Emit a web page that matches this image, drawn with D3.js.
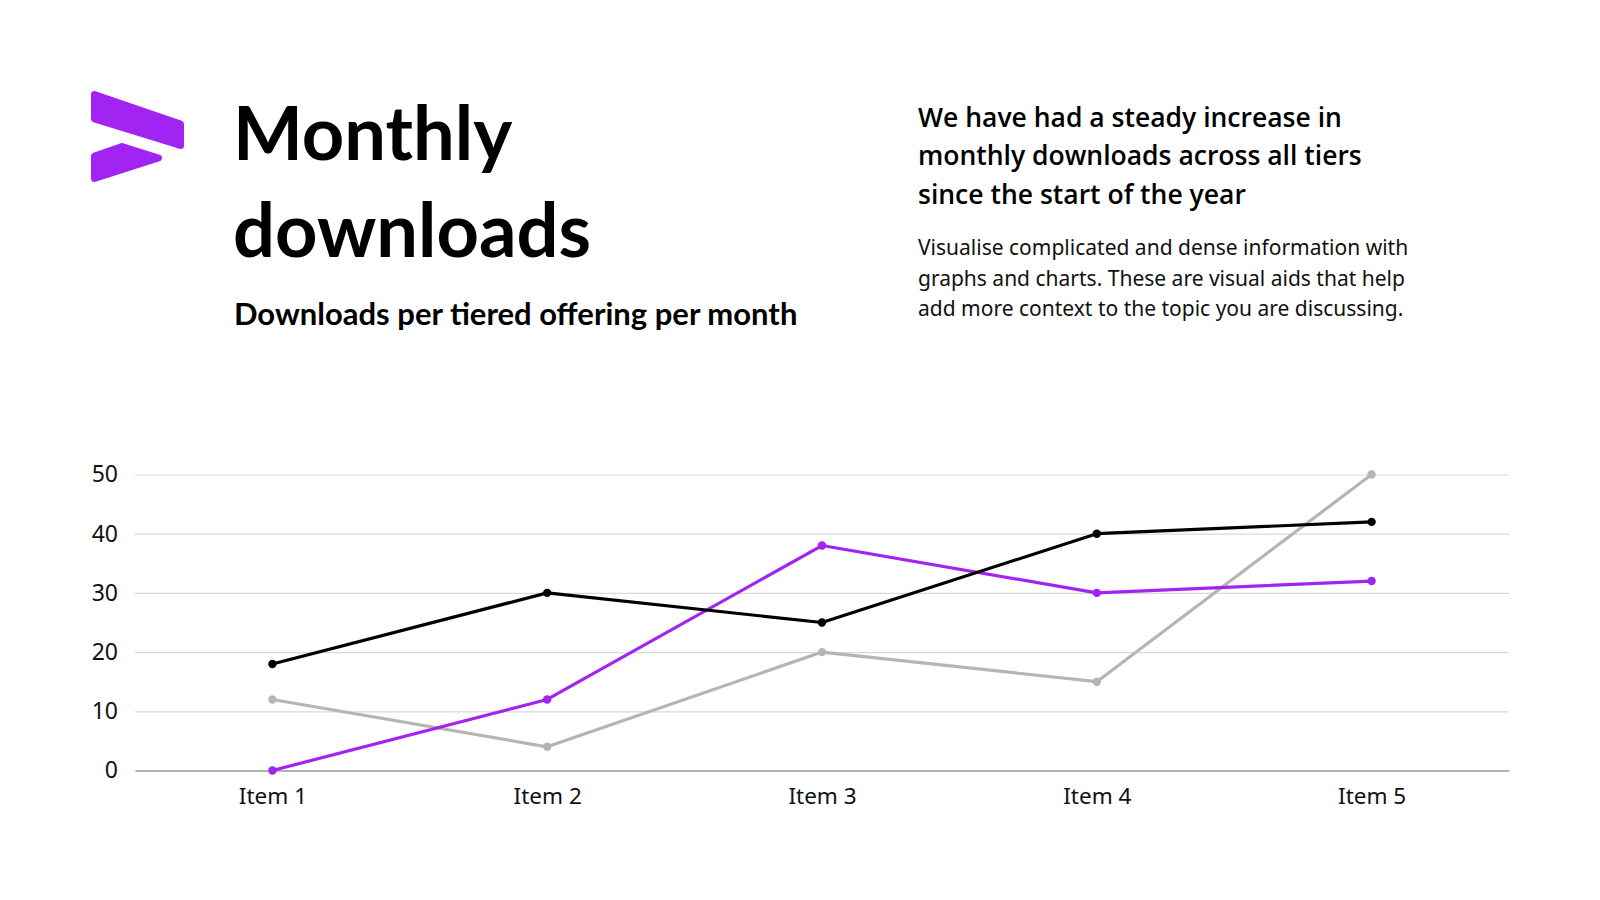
<!DOCTYPE html>
<html>
<head>
<meta charset="utf-8">
<script src="https://cdn.jsdelivr.net/npm/d3@7"></script>
<style>
    html, body { margin: 0; padding: 0; background: #ffffff; }
    svg { display: block; }
</style>
</head>
<body>
<script>
"use strict";
(function(){

    // chart data
    const items = ["Item 1", "Item 2", "Item 3", "Item 4", "Item 5"]
    const blackSeries = [18, 30, 25, 40, 42]
    const purpleSeries = [0, 12, 38, 30, 32]
    const greySeries = [12, 4, 20, 15, 50]
    const yTicks = [0, 10, 20, 30, 40, 50]

    const titleLines = ["Monthly", "downloads"]
    const subtitle = "Downloads per tiered offering per month"
    const leadLines = ["We have had a steady increase in", "monthly downloads across all tiers", "since the start of the year"]
    const bodyLines = ["Visualise complicated and dense information with", "graphs and charts. These are visual aids that help", "add more context to the topic you are discussing."]

    const purple = "#A124F2"

    const series = [
        { name: "grey", values: greySeries, color: "#B5B5B5" },
        { name: "purple", values: purpleSeries, color: purple },
        { name: "black", values: blackSeries, color: "#000000" }
    ]

    const measurements = {
        width: 1600,
        height: 900,
        left: 135,
        right: 1509,
        top: 474.5,
        bottom: 770.5
    }

    const svg = d3.select("body").append("svg")
        .attr("width", measurements.width)
        .attr("height", measurements.height)

    // logo
    const logo = svg.append("g")
        .attr("fill", purple)
        .attr("stroke", purple)
        .attr("stroke-width", 7)
        .attr("stroke-linejoin", "round")
    logo.append("path").attr("d", "M94.5,94.5 L180.5,124 L180.5,145.5 L94.5,119 Z")
    logo.append("path").attr("d", "M94.5,156 L122,146.5 L158.5,158 L94.5,178.5 Z")

    // heading
    const title = svg.append("text")
        .attr("font-family", "Lato, 'Noto Sans', sans-serif")
        .attr("font-weight", 700)
        .attr("font-size", 74)
        .attr("fill", "#000")
    title.selectAll("tspan")
        .data(titleLines)
        .enter()
        .append("tspan")
            .attr("x", 233)
            .attr("y", (d, i) => 160 + i * 97)
            .text(d => d)

    svg.append("text")
        .attr("x", 234)
        .attr("y", 324.5)
        .attr("font-family", "Lato, 'Noto Sans', sans-serif")
        .attr("font-weight", 700)
        .attr("font-size", 31)
        .attr("fill", "#000")
        .text(subtitle)

    svg.append("g")
        .attr("font-family", "'Open Sans', 'Noto Sans', sans-serif")
        .attr("font-weight", 600)
        .attr("font-size", 26.5)
        .attr("fill", "#000")
        .selectAll("text")
        .data(leadLines)
        .enter()
        .append("text")
            .attr("x", 918)
            .attr("y", (d, i) => 126.5 + i * 38.8)
            .text(d => d)

    svg.append("g")
        .attr("font-family", "'Noto Sans', 'Open Sans', sans-serif")
        .attr("font-size", 21)
        .attr("fill", "#111")
        .selectAll("text")
        .data(bodyLines)
        .enter()
        .append("text")
            .attr("x", 918)
            .attr("y", (d, i) => 255 + i * 30.7)
            .text(d => d)

    // scales
    const scaleX = d3.scalePoint()
        .domain(items)
        .range([measurements.left, measurements.right])
        .padding(0.5)

    const scaleY = d3.scaleLinear()
        .domain([0, 50])
        .range([measurements.bottom, measurements.top])

    // y axis with gridlines
    const yAxis = d3.axisLeft(scaleY)
        .tickValues(yTicks)
        .tickSize(-(measurements.right - measurements.left))
        .tickPadding(17)

    const gy = svg.append("g")
        .attr("transform", "translate(" + measurements.left + ",0)")
        .call(yAxis)
    gy.select(".domain").remove()
    gy.selectAll(".tick line")
        .attr("stroke", "#D9D9D9")
        .attr("stroke-width", 1.2)
    gy.selectAll(".tick text")
        .attr("font-family", "'Noto Sans', sans-serif")
        .attr("font-size", 23)
        .attr("fill", "#111")

    // x axis
    const xAxis = d3.axisBottom(scaleX)
        .tickSize(0)
        .tickSizeOuter(0)
        .tickPadding(18)

    const gx = svg.append("g")
        .attr("transform", "translate(0," + measurements.bottom + ")")
        .call(xAxis)
    gx.select(".domain")
        .attr("stroke", "#A0A0A0")
        .attr("stroke-width", 1.5)
    gx.selectAll(".tick text")
        .attr("font-family", "'Noto Sans', sans-serif")
        .attr("font-size", 22.5)
        .attr("fill", "#111")

    // lines and points
    const line = d3.line()
        .x((d, i) => scaleX(items[i]))
        .y(d => scaleY(d))

    const groups = svg.selectAll(".series")
        .data(series)
        .enter()
        .append("g")
            .attr("class", "series")

    groups.append("path")
        .attr("d", d => line(d.values))
        .attr("fill", "none")
        .attr("stroke", d => d.color)
        .attr("stroke-width", 3.2)
        .attr("stroke-linejoin", "round")

    groups.selectAll("circle")
        .data(d => d.values.map(v => ({ v: v, color: d.color })))
        .enter()
        .append("circle")
            .attr("cx", (d, i) => scaleX(items[i]))
            .attr("cy", d => scaleY(d.v))
            .attr("r", 4.2)
            .attr("fill", d => d.color)
})()
</script>
</body>
</html>
